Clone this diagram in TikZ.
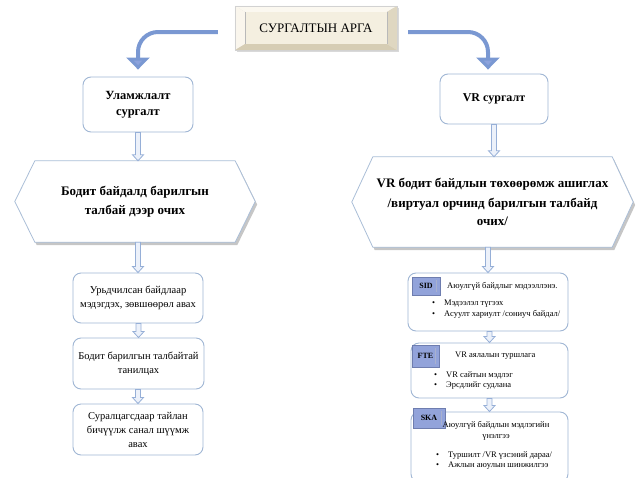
\documentclass[tikz,border=0pt]{standalone}
\usepackage{fontspec}
\setmainfont{Liberation Serif}
\usetikzlibrary{arrows.meta,calc,backgrounds}
\definecolor{boxline}{RGB}{160,182,212}
\definecolor{arrline}{RGB}{122,152,210}
\definecolor{arrhead}{RGB}{140,162,220}
\definecolor{blkline}{RGB}{150,175,215}
\definecolor{blkfill}{RGB}{236,241,250}
\definecolor{tagfill}{RGB}{146,163,218}
\definecolor{tagline}{RGB}{110,125,175}
\definecolor{cream}{RGB}{244,239,224}
\definecolor{creamlt}{RGB}{251,248,240}
\definecolor{creamdk}{RGB}{214,205,180}
\definecolor{hexline}{RGB}{170,190,215}
\newcommand\bul{\makebox[12pt][l]{•}}
\begin{document}
\begin{tikzpicture}[x=1pt,y=-1pt,
  rbox/.style={draw=boxline, line width=0.9pt, rounded corners=8pt, fill=white, inner sep=0pt, align=center},
  ltext/.style={font=\fontsize{10.5}{14}\selectfont},
  hexnode/.style={inner sep=0pt, align=center, font=\bfseries\fontsize{13}{19}\selectfont},
  hexshape/.style n args={4}{insert path={([shift={(#3,#4)}]#1.west) -- ([shift={(#2+#3,#4)}]#1.north west) -- ([shift={(-#2+#3,#4)}]#1.north east) -- ([shift={(#3,#4)}]#1.east) -- ([shift={(-#2+#3,#4)}]#1.south east) -- ([shift={(#2+#3,#4)}]#1.south west) -- cycle}},
  blk/.style={draw=blkline, fill=blkfill, line width=0.8pt, to path={let \p1=(\tikztostart), \p2=(\tikztotarget) in (\x1-2.5pt,\y1) -- (\x1-2.5pt,\y2+6pt) -- (\x1-5.5pt,\y2+6pt) -- (\x1,\y2) -- (\x1+5.5pt,\y2+6pt) -- (\x1+2.5pt,\y2+6pt) -- (\x1+2.5pt,\y1) -- cycle}},
  bigarr/.style={draw=arrline, line width=4pt, rounded corners=20pt, -{Triangle[width=23pt,length=12pt,fill=arrhead]}},
  tag/.style={draw=tagline, fill=tagfill, line width=0.6pt, inner sep=0pt, font=\bfseries\fontsize{8}{9}\selectfont},
  small/.style={inner sep=0pt, font=\fontsize{8.5}{10.5}\selectfont, align=left},
]
\useasboundingbox (0,0) rectangle (637,477);
\clip (0,0) rectangle (637,477);

% title
\node[minimum width=162pt, minimum height=44pt, inner sep=0pt, font=\fontsize{13}{15}\selectfont] (title) at (316,28) {СУРГАЛТЫН АРГА};
\coordinate (inw) at ([shift={(10pt,-6pt)}]title.north west);
\coordinate (ine) at ([shift={(-10pt,-6pt)}]title.north east);
\coordinate (isw) at ([shift={(10pt,6pt)}]title.south west);
\coordinate (ise) at ([shift={(-10pt,6pt)}]title.south east);
\begin{scope}[on background layer]
  \fill[gray!30] ([shift={(2pt,-2pt)}]title.south west) rectangle ([shift={(2pt,-2pt)}]title.north east);
  \fill[creamlt] (title.north west) -- (title.north east) -- (ine) -- (inw) -- cycle;
  \fill[creamlt!80!cream] (title.north west) -- (inw) -- (isw) -- (title.south west) -- cycle;
  \fill[creamdk] (title.south west) -- (isw) -- (ise) -- (title.south east) -- cycle;
  \fill[creamdk!70!cream] (title.north east) -- (ine) -- (ise) -- (title.south east) -- cycle;
  \fill[cream] (inw) rectangle (ise);
  \draw[gray!55, line width=0.6pt] (inw) -- (isw) (ine) -- (ise);
  \draw[gray!35, line width=0.4pt] (title.south west) rectangle (title.north east);
\end{scope}

% level 1 boxes
\node[rbox, minimum width=110pt, minimum height=55pt, font=\bfseries\fontsize{12.5}{16}\selectfont] (ulam) at (138,104.5) {Уламжлалт\\сургалт};
\node[rbox, minimum width=108pt, minimum height=50pt, font=\bfseries\fontsize{12}{15}\selectfont] (vr) at (494,99) {VR сургалт};

\draw[bigarr, shorten <=17pt, shorten >=7pt] ([yshift=-4pt]title.west) -| (ulam.north);
\draw[bigarr, shorten <=11pt, shorten >=4pt] ([yshift=-4pt]title.east) -| ([xshift=-6pt]vr.north);

% hexagons
\node[hexnode, minimum width=240pt, minimum height=81pt] (hexL) at (135,201.5) {Бодит байдалд барилгын\\талбай дээр очих};
\node[hexnode, minimum width=281pt, minimum height=90pt, font=\bfseries\fontsize{13}{18}\selectfont] (hexR) at (492.5,202) {VR бодит байдлын төхөөрөмж ашиглах\\[2pt]/виртуал орчинд барилгын талбайд\\очих/};
\begin{scope}[on background layer]
  \fill[gray!45, hexshape={hexL}{20pt}{2pt}{-3pt}];
  \fill[white, draw=hexline, line width=0.8pt, hexshape={hexL}{20pt}{0pt}{0pt}];
  \fill[gray!45, hexshape={hexR}{21pt}{2pt}{-3pt}];
  \fill[white, draw=hexline, line width=0.8pt, hexshape={hexR}{21pt}{0pt}{0pt}];
\end{scope}

% left column
\node[rbox, ltext, minimum width=130pt, minimum height=50pt] (L1) at (138,298) {Урьдчилсан байдлаар\\мэдэгдэх, зөвшөөрөл авах};
\node[rbox, ltext, minimum width=131pt, minimum height=51pt] (L2) at (138.5,363.5) {Бодит барилгын талбайтай\\танилцах};
\node[rbox, ltext, minimum width=130pt, minimum height=51pt] (L3) at (138,429.5) {Суралцагсдаар тайлан\\бичүүлж санал шүүмж\\авах};

% right column
\node[rbox, minimum width=160pt, minimum height=58pt] (sid) at (488,302) {};
\node[rbox, minimum width=157pt, minimum height=55pt] (fte) at (489.5,370.5) {};
\node[rbox, minimum width=157pt, minimum height=70pt] (ska) at (489.5,447) {};

\node[tag, minimum width=28pt, minimum height=18pt] (sidtag) at (426,286) {SID};
\node[small, anchor=west] (sidt) at (447,286) {Аюулгүй байдлыг мэдээллэнэ.};
\node[small, anchor=north west] (sidb) at (432,300) {\bul Мэдээлэл түгээх\\\bul Асуулт хариулт /сониуч байдал/};

\node[tag, minimum width=27pt, minimum height=22pt] (ftetag) at (425.5,356) {FTE};
\node[small, anchor=west] (ftet) at (455,356) {VR аялалын туршлага};
\node[small, anchor=north west] (fteb) at (434,371) {\bul VR сайтын мэдлэг\\\bul Эрсдлийг судлана};

\node[tag, minimum width=32pt, minimum height=20pt] (skatag) at (429,418) {SKA};
\node[small, align=center] (skat) at (496,431) {Аюулгүй байдлын мэдлэгийн\\үнэлгээ};
\node[small, anchor=north west] (skab) at (436,451) {\bul Туршилт /VR үзсэний дараа/\\\bul Ажлын аюулын шинжилгээ};

\foreach \t in {sidtag,ftetag,skatag}{
  \draw[tagline!60, line width=0.5pt] ([shift={(-4pt,-3pt)}]\t.north east) -- ([shift={(-4pt,3pt)}]\t.south east);
}

% block arrows
\draw[blk] (ulam.south) to (hexL.north -| ulam.south);
\draw[blk] (vr.south) to (hexR.north -| vr.south);
\draw[blk] (L1.north |- hexL.south) to (L1.north);
\draw[blk] (L2.north |- L1.south) to (L2.north);
\draw[blk] (L3.north |- L2.south) to (L3.north);
\draw[blk] (sid.north |- hexR.south) to (sid.north);
\draw[blk] (fte.north |- sid.south) to (fte.north);
\draw[blk] (ska.north |- fte.south) to (ska.north);
\end{tikzpicture}
\end{document}
